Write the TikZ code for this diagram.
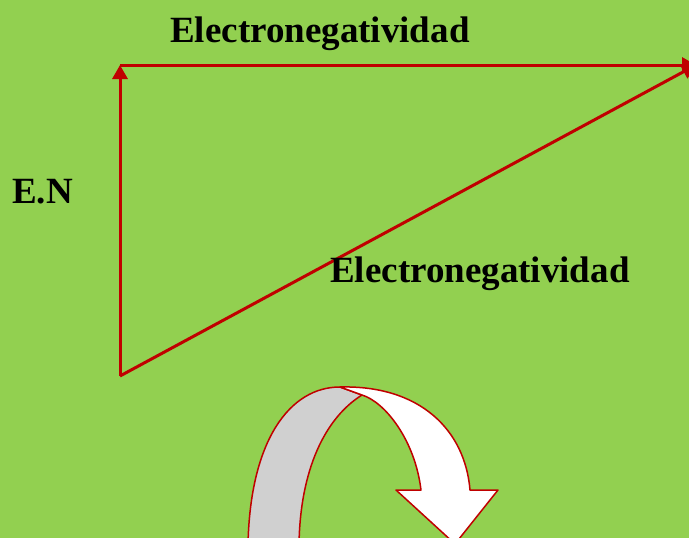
\documentclass[tikz,border=0pt]{standalone}
\usepackage{fontspec}
\setmainfont{Liberation Serif}
\usetikzlibrary{arrows.meta}
\definecolor{fondo}{RGB}{146,208,80}
\definecolor{rojo}{RGB}{192,0,0}
\definecolor{gris}{RGB}{208,208,208}

\begin{document}
\begin{tikzpicture}[
        x=1pt, y=-1pt,
        >={Triangle[length=14pt, width=15pt]},
        every node/.style={font=\fontsize{37}{40}\selectfont\bfseries, inner sep=0pt},
        eje/.style={->, draw=rojo, fill=rojo, line width=3pt},
        cinta/.style={draw=rojo, line width=1.5pt, line join=round},
    ]

    %% ===== Background =====
    \fill[fondo] (0,0) rectangle (689,538);
    \clip (0,0) rectangle (689,538);

    %% ===== Triangle of axes =====
    \coordinate (origen) at (120,376);
    \coordinate (cima) at (120,65);
    \coordinate (derecha) at (696,65);
    \draw[eje] (origen) -- (cima);
    \draw[eje] (cima) -- (derecha);
    \draw[eje] (origen) -- (derecha);

    %% ===== Labels =====
    \node[anchor=base west] (titulo) at (170,42) {Electronegatividad};
    \node[anchor=base west] (en) at (12,203) {E.N};
    \node[anchor=base west] (diaglabel) at (330,282) {Electronegatividad};

    %% ===== Curved arrow =====
    \draw[cinta, fill=gris] (248,545) .. controls (250,440) and (290,387) .. (340,387)
        -- (362,395) .. controls (325,418) and (300,470) .. (299,545) -- cycle;
    \draw[cinta, fill=white] (340,387) .. controls (420,385) and (465,430) .. (470,490)
        -- (498,490) -- (455,544) -- (396,490) -- (421,490)
        .. controls (415,440) and (385,402) .. (362,395) -- cycle;

\end{tikzpicture}
\end{document}
